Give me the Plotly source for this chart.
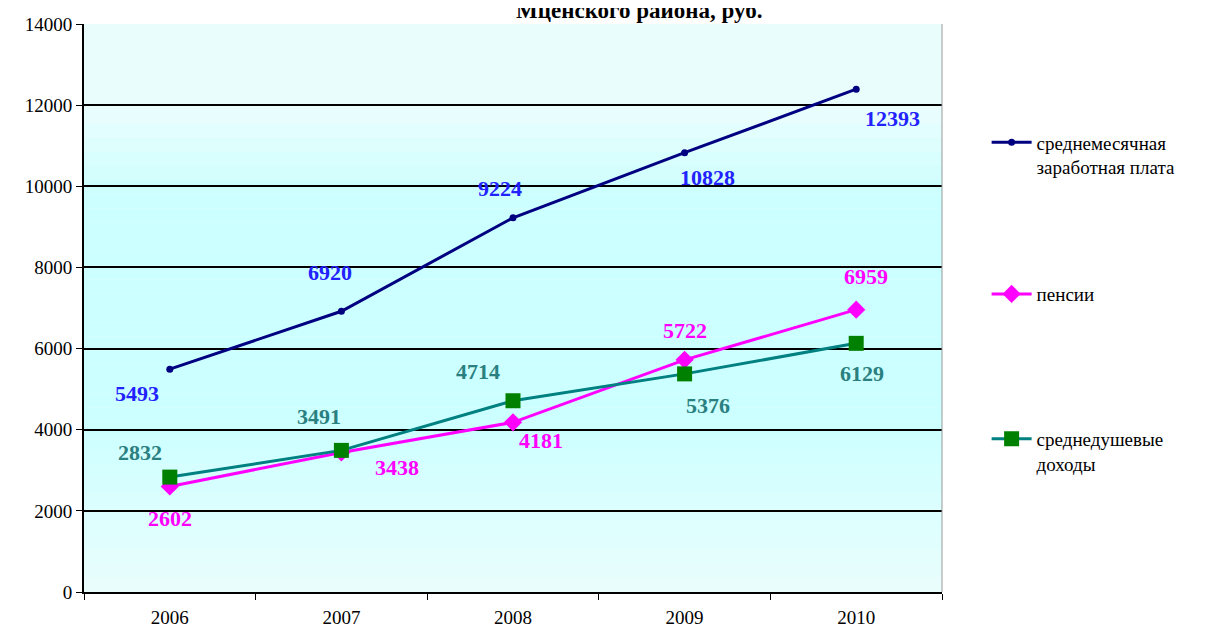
import plotly.graph_objects as go

years = ["2006", "2007", "2008", "2009", "2010"]
wages = [5493, 6920, 9224, 10828, 12393]
pensions = [2602, 3438, 4181, 5722, 6959]
incomes = [2832, 3491, 4714, 5376, 6129]
y_ticks = [0, 2000, 4000, 6000, 8000, 10000, 12000, 14000]

names = ["среднемесячная<br>заработная плата", "пенсии", "среднедушевые<br>доходы"]

# label offsets (pixels) per point: (xshift, yshift)
wage_off = [(-33, -24), (-11, 39), (-13, 29), (23, -25), (36, -29)]
pens_off = [(0, -32), (56, -15), (28, -18), (0, 29), (10, 33)]
inc_off = [(-30, 25), (-22, 34), (-35, 29), (23, -32), (6, -30)]

FONT = "Times New Roman"

fig = go.Figure()
fig.add_trace(go.Scatter(x=years, y=wages, mode="lines+markers", name=names[0],
                         line=dict(color="#000080", width=3),
                         marker=dict(symbol="circle", size=7, color="#000080"),
                         legend="legend"))
fig.add_trace(go.Scatter(x=years, y=pensions, mode="lines+markers", name=names[1],
                         line=dict(color="#ff00ff", width=3),
                         marker=dict(symbol="diamond", size=14, color="#ff00ff"),
                         legend="legend2"))
fig.add_trace(go.Scatter(x=years, y=incomes, mode="lines+markers", name=names[2],
                         line=dict(color="#008080", width=3),
                         marker=dict(symbol="square", size=15, color="#008000"),
                         legend="legend3"))

annotations = []
for vals, offs, col in [(wages, wage_off, "#2222ff"), (pensions, pens_off, "#ff00ff"),
                        (incomes, inc_off, "#2a8080")]:
    for i, (v, (dx, dy)) in enumerate(zip(vals, offs)):
        # category axis: annotation x given as category index
        annotations.append(dict(x=i, y=v, xref="x", yref="y", text=str(v), showarrow=False,
                                xshift=dx, yshift=dy,
                                font=dict(family=FONT, size=22, color=col, weight="bold")))

# title (partly cut off at the top, as in the reference)
annotations.append(dict(x=0.647, y=1.0, xref="paper", yref="paper", yshift=-1,
                        text="Мценского района, руб.", showarrow=False, yanchor="bottom",
                        font=dict(family=FONT, size=23, color="black", weight="bold")))

# background gradient bands
def mix(c1, c2, t):
    return "rgb(%d,%d,%d)" % tuple(round(a + (b - a) * t) for a, b in zip(c1, c2))

light = (234, 253, 253)
cyan = (204, 255, 255)
shapes = []
n = 40
for i in range(n):
    y0 = i / n
    y1 = (i + 1) / n
    mid = (y0 + y1) / 2
    if mid < 0.3:
        t = mid / 0.3
    elif mid > 0.7:
        t = max(0.0, 1 - (mid - 0.7) / 0.15)
    else:
        t = 1.0
    t = min(max(t, 0.0), 1.0)
    shapes.append(dict(type="rect", xref="paper", yref="paper", x0=0, x1=1, y0=y0, y1=y1,
                       fillcolor=mix(light, cyan, t), line=dict(width=0), layer="below"))
shapes.append(dict(type="line", xref="paper", yref="paper", x0=1, x1=1, y0=0, y1=1,
                   line=dict(color="#999999", width=1)))

legend_common = dict(x=1.052, xanchor="left", yanchor="top", valign="top",
                     bgcolor="rgba(0,0,0,0)",
                     font=dict(family=FONT, size=19, color="black"), itemwidth=40)

fig.update_layout(
    width=1206, height=621,
    margin=dict(l=76, r=272, t=16, b=37, autoexpand=False),
    paper_bgcolor="white",
    plot_bgcolor="#eafdfd",
    showlegend=True,
    font=dict(family=FONT, size=19, color="black"),
    shapes=shapes,
    annotations=annotations,
    legend=dict(y=0.825, **legend_common),
    legend2=dict(y=0.558, **legend_common),
    legend3=dict(y=0.303, **legend_common),
    xaxis=dict(type="category", categoryorder="array", categoryarray=years, automargin=False,
               range=[-0.5, 4.5], showgrid=False, showline=True, linecolor="black", linewidth=2,
               ticks="outside", tickson="boundaries", ticklen=6, tickcolor="black",
               tickfont=dict(family=FONT, size=19), ticklabelstandoff=7),
    yaxis=dict(range=[0, 14000], tickvals=y_ticks, tickformat="d", showgrid=True, automargin=False,
               gridcolor="black", gridwidth=1.5,
               showline=True, linecolor="black", linewidth=2, ticks="outside", ticklen=6,
               tickcolor="black", zeroline=False, tickfont=dict(family=FONT, size=19)),
)

fig.write_html("out.html")
